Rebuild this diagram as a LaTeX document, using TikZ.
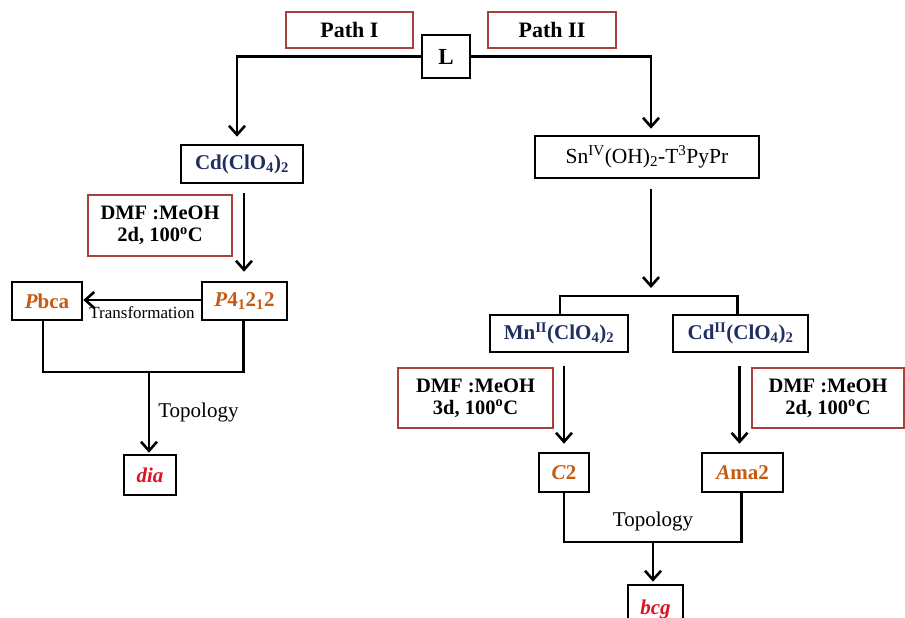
\documentclass[tikz,border=0pt]{standalone}
\usepackage{fontspec}
\setmainfont{Liberation Serif}
\usepackage{xcolor}
\usetikzlibrary{arrows.meta, positioning, calc}
\definecolor{condred}{RGB}{168,64,60}
\definecolor{saltblue}{RGB}{31,48,96}
\definecolor{groupor}{RGB}{197,90,17}
\definecolor{netred}{RGB}{222,18,32}
\newcommand{\fs}[1]{\fontsize{#1}{#1}\selectfont}

\begin{document}
\begin{tikzpicture}[x=1pt, y=-1pt,
  box/.style={rectangle, draw=black, line width=2.6pt, fill=white, inner sep=0pt,
              align=center, font=\fs{21}\bfseries},
  cond/.style={rectangle, draw=condred, line width=2.2pt, inner sep=0pt,
               align=center, font=\fontsize{20.5}{22}\selectfont\bfseries},
  salt/.style={box, text=saltblue},
  group/.style={box, text=groupor},
  net/.style={box, text=netred, font=\fs{21}\bfseries\itshape},
  note/.style={font=\fs{20}, inner sep=0pt},
  arrow/.style={-{Straight Barb[length=9pt, width=16pt, line width=2.6pt]}, line width=2.6pt},
  link/.style={line width=2.6pt}
]
  \useasboundingbox (0,0) rectangle (905,618);

  \node[cond, minimum width=127pt, minimum height=36pt] (pathA) at (349.5,30) {\fs{22}Path I};
  \node[cond, minimum width=128pt, minimum height=36pt] (pathB) at (552,30) {\fs{22}Path II};
  \node[box, minimum width=48pt, minimum height=43pt] (lig) at (446,56.5) {\fs{23}L};

  \node[salt, minimum width=122pt, minimum height=38pt] (cd) at (242,164) {Cd(ClO\textsubscript{4})\textsubscript{2}};
  \node[box, font=\fs{21.5}, minimum width=224pt, minimum height=42pt] (sn) at (647,157)
       {Sn\textsuperscript{IV}(OH)\textsubscript{2}-T\textsuperscript{3}PyPr};

  \node[cond, minimum width=144pt, minimum height=61pt] (condA) at (160,225.5)
       {DMF :MeOH\\2d, 100\textsuperscript{o}C};
  \node[group, minimum width=85pt, minimum height=38pt] (pfour) at (244.5,301)
       {\textit{P}4\textsubscript{1}2\textsubscript{1}2};
  \node[group, minimum width=70pt, minimum height=38pt] (pbca) at (47,301) {\textit{P}bca};
  \node[net, minimum width=52pt, minimum height=40pt] (dia) at (150,475) {dia};
  \coordinate (lmerge) at (149,372);

  \node[salt, minimum width=138pt, minimum height=37pt] (mn) at (559,333.5)
       {Mn\textsuperscript{II}(ClO\textsubscript{4})\textsubscript{2}};
  \node[salt, minimum width=135pt, minimum height=37pt] (cdII) at (740.5,333.5)
       {Cd\textsuperscript{II}(ClO\textsubscript{4})\textsubscript{2}};
  \coordinate (rsplit) at (651,296);

  \node[cond, minimum width=155pt, minimum height=60pt] (condB) at (475.5,398)
       {DMF :MeOH\\3d, 100\textsuperscript{o}C};
  \node[cond, minimum width=152pt, minimum height=60pt] (condC) at (828,398)
       {DMF :MeOH\\2d, 100\textsuperscript{o}C};

  \node[group, minimum width=50pt, minimum height=39pt] (ctwo) at (564,472.5) {\textit{C}2};
  \node[group, minimum width=81pt, minimum height=39pt] (ama) at (742.5,472.5) {\textit{A}ma2};
  \coordinate (rmerge) at (653,542);
  \node[net, minimum width=55pt, minimum height=50pt] (bcg) at (655.5,610) {\raisebox{5pt}{bcg}};

  \draw[arrow, shorten >=7pt] (lig.west) -| ([xshift=-5pt]cd.north);
  \draw[arrow, shorten >=6pt] (lig.east) -| ([xshift=4pt]sn.north);
  \draw[arrow, shorten <=9pt, shorten >=9pt] ([xshift=2pt]cd.south) -- (pfour.north -| {$(cd.south)+(2,0)$});
  \draw[arrow] (pfour.west |- 0,300) -- (pbca.east |- 0,300)
       node[midway, below=5pt, note, font=\fs{17}] (trans) {Transformation};
  \draw[link] ([xshift=-4pt]pbca.south) |- (lmerge) -| ([xshift=-1pt]pfour.south);
  \draw[arrow, shorten >=1pt] (lmerge) -- (lmerge |- dia.north)
       node[midway, right=8pt, note, font=\fs{21}] (topoA) {Topology};

  \draw[arrow, shorten <=10pt, shorten >=8pt] (rsplit |- sn.south) -- (rsplit);
  \draw[link] ([xshift=1pt]mn.north) |- (rsplit) -| ([xshift=-3pt]cdII.north);
  \draw[arrow, shorten <=13pt, shorten >=8pt] (ctwo |- mn.south) -- (ctwo.north);
  \draw[arrow, shorten <=13pt, shorten >=8pt] ([xshift=-3pt]ama |- cdII.south) -- ([xshift=-3pt]ama.north);
  \draw[link] (ctwo.south) |- (rmerge) -| ([xshift=-1pt]ama.south);
  \draw[arrow, shorten >=2pt] (rmerge) -- (rmerge |- bcg.north)
       node[pos=0, above=10pt, note, font=\fs{21}] (topoB) {Topology};
\end{tikzpicture}
\end{document}
